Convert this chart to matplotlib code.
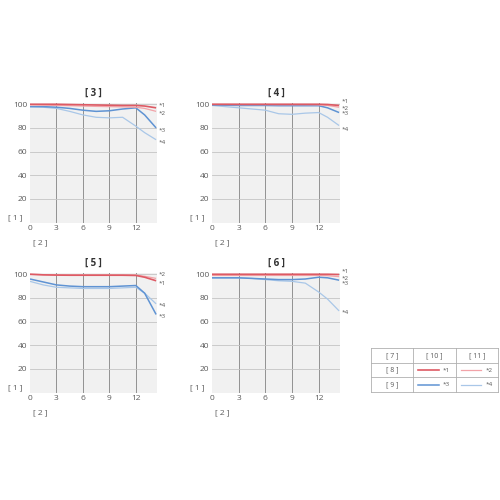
import matplotlib
matplotlib.use("Agg")
import matplotlib.pyplot as plt

# ── Data ──────────────────────────────────────────────────────────────────
X = [0, 1.5, 3, 4.5, 6, 7.5, 9, 10.5, 12, 13, 14.3]
X_TICKS = [0, 3, 6, 9, 12]
Y_TICKS = [20, 40, 60, 80, 100]
PANEL_TITLES = ["[ 3 ]", "[ 4 ]", "[ 5 ]", "[ 6 ]"]
SERIES = ["*1", "*2", "*3", "*4"]

P3 = [
    [100, 100, 100, 99.8, 99.6, 99.4, 99.2, 99, 99, 98.5, 97],
    [99.5, 99.3, 99, 98.8, 98.5, 98.2, 98, 97.8, 97.5, 96.5, 94],
    [98, 98, 97.5, 96.5, 95, 94, 94.5, 96, 97, 91, 80],
    [98, 97.5, 96.5, 94, 91, 89, 88.5, 89, 81.5, 76, 70],
]
P4 = [
    [100, 100, 100, 100, 100, 100, 100, 100, 100, 99.8, 99],
    [99.8, 99.8, 99.7, 99.7, 99.7, 99.6, 99.6, 99.6, 99.5, 99, 97.5],
    [99.3, 99.2, 99, 99, 99, 98.8, 98.8, 98.8, 98.8, 97, 93],
    [99, 98, 97, 96, 95, 92, 91.5, 92.5, 93, 89, 82],
]
P5 = [
    [100, 99.5, 99.3, 99.2, 99.2, 99.2, 99.2, 99.2, 99, 97.5, 94.5],
    [100, 99.7, 99.5, 99.4, 99.4, 99.4, 99.4, 99.4, 99.3, 98.3, 96.5],
    [96, 93.5, 91, 90, 89.5, 89.5, 89.5, 90, 90.5, 84, 66],
    [94, 91, 89, 88.5, 88, 88, 88, 88.5, 89, 84, 75],
]
P6 = [
    [100, 100, 100, 100, 100, 100, 100, 100, 100, 100, 99.8],
    [99, 99, 99, 99, 99, 99, 99, 99, 99, 98.8, 98],
    [97, 97, 97, 96.5, 96, 95.5, 95.5, 96, 97.5, 97, 95],
    [97, 97, 97, 96.5, 95.5, 94.5, 94, 92.5, 85, 79, 69],
]
PANELS = [P3, P4, P5, P6]

# y positions of the "*n" tags at right of each panel
TAGS_Y = [
    [98.6, 92, 78, 68],
    [102, 96.5, 92, 79],
    [92.5, 100, 64.5, 73.5],
    [102, 96.5, 92, 68],
]

LEGEND_ROWS = ["[ 7 ]", "[ 8 ]", "[ 9 ]"]
LEGEND_COLS = ["[ 10 ]", "[ 11 ]"]

# ── Style ─────────────────────────────────────────────────────────────────
COLORS = ["#de5a64", "#f2a3a8", "#5f93d3", "#a9c7e8"]
WIDTHS = [1.2, 0.9, 1.1, 0.9]
TXT = "#5a5a5a"

plt.rcParams["font.family"] = ["Open Sans", "DejaVu Sans"]

fig = plt.figure(figsize=(5, 5), dpi=100)

# axes rectangles in figure fraction
RECTS = [
    (0.060, 0.555, 0.254, 0.240),
    (0.424, 0.555, 0.256, 0.240),
    (0.060, 0.215, 0.254, 0.240),
    (0.424, 0.215, 0.256, 0.240),
]

for title, data, tags, rect in zip(PANEL_TITLES, PANELS, TAGS_Y, RECTS):
    ax = fig.add_axes(rect)
    ax.set_facecolor("#f1f1f1")
    ax.set_xlim(0, 14.4)
    ax.set_ylim(0, 101.5)
    ax.set_xticks(X_TICKS)
    ax.set_yticks(Y_TICKS)
    ax.tick_params(length=0, labelsize=6, colors=TXT, pad=2)
    for s in ax.spines.values():
        s.set_visible(False)
    for v in X_TICKS[1:]:
        ax.axvline(v, color="#929292", lw=0.7, zorder=1)
    for v in Y_TICKS:
        ax.axhline(v, color="#c4c4c4", lw=0.6, zorder=1)

    # draw lighter lines first, strong red on top
    for i in [3, 2, 1, 0]:
        ax.plot(X, data[i], color=COLORS[i], lw=WIDTHS[i], zorder=3,
                solid_capstyle="butt")
    for name, ty in zip(SERIES, tags):
        ax.text(14.6, ty, name, fontsize=4.5, color=TXT, va="center",
                ha="left", clip_on=False)

    ax.set_title(title, fontsize=7, color="#333333", pad=5,
                 fontweight="bold")
    ax.text(-0.17, 0.04, "[ 1 ]", transform=ax.transAxes, fontsize=6,
            color=TXT, ha="left", va="center")
    ax.text(0.02, -0.17, "[ 2 ]", transform=ax.transAxes, fontsize=6,
            color=TXT, ha="left", va="center")

# ── Legend table ──────────────────────────────────────────────────────────
lax = fig.add_axes((0.742, 0.216, 0.254, 0.088))
lax.set_xlim(0, 3)
lax.set_ylim(0, 3)
lax.axis("off")
for v in [0, 1, 2, 3]:
    lax.plot([0, 3], [v, v], color="#b0b0b0", lw=0.6, clip_on=False)
    lax.plot([v, v], [0, 3], color="#b0b0b0", lw=0.6, clip_on=False)

lax.text(0.5, 2.5, LEGEND_ROWS[0], ha="center", va="center",
         fontsize=5, color=TXT)
for j, lab in enumerate(LEGEND_COLS):
    lax.text(1.5 + j, 2.5, lab, ha="center", va="center",
             fontsize=5, color=TXT)
for r, lab in enumerate(LEGEND_ROWS[1:]):
    y = 1.5 - r
    lax.text(0.5, y, lab, ha="center", va="center", fontsize=5, color=TXT)
    for c in range(2):
        k = r * 2 + c
        x0 = 1 + c
        lax.plot([x0 + 0.12, x0 + 0.6], [y, y], color=COLORS[k],
                 lw=WIDTHS[k])
        lax.text(x0 + 0.7, y, SERIES[k], ha="left", va="center",
                 fontsize=4.5, color=TXT)

fig.savefig("out.png", dpi=100, facecolor="white")
